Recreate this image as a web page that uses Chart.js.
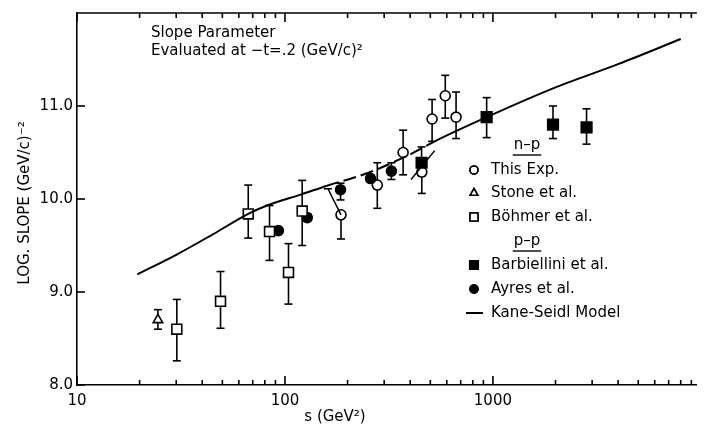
<!DOCTYPE html>
<html lang="en">
<head>
<meta charset="UTF-8">
<title>Slope Parameter</title>
<script src="https://cdn.jsdelivr.net/npm/chart.js@4.4.0/dist/chart.umd.min.js"></script>
<style>
    html, body { margin: 0; padding: 0; background: #fff; }
</style>
</head>
<body>
<canvas id="graph1" width="706" height="426"></canvas>
<script>
// n-p, this experiment (open circles)
var thisS  = [186, 278, 370, 455, 510, 590, 665];
var thisY  = [9.83, 10.15, 10.50, 10.29, 10.86, 11.11, 10.88];
var thisLo = [9.57, 9.90, 10.26, 10.06, 10.62, 10.87, 10.65];
var thisHi = [null, 10.39, 10.74, 10.38, 11.07, 11.33, 11.15];

// n-p, Stone et al. (open triangle)
var stoneS  = [24.5];
var stoneY  = [8.70];
var stoneLo = [8.60];
var stoneHi = [8.81];

// n-p, Bohmer et al. (open squares)
var bohmS  = [30.2, 49, 66.6, 84.3, 104, 121];
var bohmY  = [8.60, 8.90, 9.84, 9.65, 9.21, 9.87];
var bohmLo = [8.26, 8.61, 9.58, 9.34, 8.87, 9.50];
var bohmHi = [8.92, 9.22, 10.15, 9.93, 9.52, 10.20];

// p-p, Barbiellini et al. (filled squares)
var barbS  = [454, 933, 1945, 2820];
var barbY  = [10.39, 10.88, 10.80, 10.77];
var barbLo = [10.25, 10.66, 10.65, 10.59];
var barbHi = [10.56, 11.09, 11.00, 10.97];

// p-p, Ayres et al. (filled circles)
var ayresS  = [93, 128, 185, 258, 325];
var ayresY  = [9.66, 9.80, 10.10, 10.22, 10.30];
var ayresLo = [9.63, 9.76, 9.99, 10.18, 10.21];
var ayresHi = [9.69, 9.84, 10.17, 10.26, 10.39];

// Kane-Seidl model curve
var modelS = [19.5, 30, 45, 66.6, 82, 120, 158, 250, 400, 525, 933, 2000, 4000, 8000];
var modelY = [9.19, 9.40, 9.62, 9.84, 9.93, 10.05, 10.14, 10.28, 10.48, 10.62, 10.88, 11.20, 11.45, 11.72];

// shifted-point guide lines
var shift1S = [186, 161];
var shift1Y = [9.83, 10.11];
var shift2S = [404, 525];
var shift2Y = [10.21, 10.52];

var xMin = 10, xMax = 9570;
var yTicks = [8, 9, 10, 11];
var xLabels = [10, 100, 1000];
var FONT = "'DejaVu Sans', sans-serif";

function pts(xs, ys) {
    var out = [];
    for (var i = 0; i < xs.length; i++) out.push({x: xs[i], y: ys[i]});
    return out;
}

function marker(style, radius, fill) {
    return {
        showLine: false,
        pointStyle: style,
        pointRadius: radius,
        pointHoverRadius: radius,
        pointBorderWidth: 1.6,
        pointBorderColor: "#000",
        pointBackgroundColor: fill,
        borderColor: "#000",
        backgroundColor: fill
    };
}

var datasets = [
    Object.assign({label: "Kane-Seidl Model", data: pts(modelS, modelY), showLine: true, pointRadius: 0,
        borderColor: "#000", borderWidth: 2, cubicInterpolationMode: "monotone",
        segment: { borderDash: function (c) { return (c.p0.parsed.x >= 150 && c.p1.parsed.x <= 700) ? [13, 5] : undefined; } }
    }),
    {label: "shift1", data: pts(shift1S, shift1Y), showLine: true, pointRadius: 0, borderColor: "#000", borderWidth: 1.5, capEnd: true},
    {label: "shift2", data: pts(shift2S, shift2Y), showLine: true, pointRadius: 0, borderColor: "#000", borderWidth: 1.5},
    Object.assign({label: "Stone et al.", data: pts(stoneS, stoneY), lo: stoneLo, hi: stoneHi}, marker("triangle", 5.5, "#fff")),
    Object.assign({label: "Böhmer et al.", data: pts(bohmS, bohmY), lo: bohmLo, hi: bohmHi}, marker("rect", 7, "#fff")),
    Object.assign({label: "Barbiellini et al.", data: pts(barbS, barbY), lo: barbLo, hi: barbHi}, marker("rect", 7.5, "#000")),
    Object.assign({label: "Ayres et al.", data: pts(ayresS, ayresY), lo: ayresLo, hi: ayresHi}, marker("circle", 5, "#000")),
    Object.assign({label: "This Exp.", data: pts(thisS, thisY), lo: thisLo, hi: thisHi}, marker("circle", 5, "#fff"))
];

function seg(ctx, x1, y1, x2, y2) {
    ctx.beginPath(); ctx.moveTo(x1, y1); ctx.lineTo(x2, y2); ctx.stroke();
}

// vertical error bars with caps, drawn under the markers
var errorBars = {
    id: "errorBars",
    beforeDatasetsDraw: function (chart) {
        var ctx = chart.ctx, xs = chart.scales.x, ys = chart.scales.y;
        ctx.save();
        ctx.strokeStyle = "#000";
        ctx.lineWidth = 1.6;
        chart.data.datasets.forEach(function (ds) {
            if (ds.capEnd) {
                var last = ds.data[ds.data.length - 1];
                var cx = xs.getPixelForValue(last.x), cy = ys.getPixelForValue(last.y);
                seg(ctx, cx - 4, cy, cx + 4, cy);
            }
            if (!ds.lo) return;
            ds.data.forEach(function (p, i) {
                var px = xs.getPixelForValue(p.x), py = ys.getPixelForValue(p.y);
                if (ds.hi[i] != null) {
                    var t = ys.getPixelForValue(ds.hi[i]);
                    seg(ctx, px, py, px, t); seg(ctx, px - 4, t, px + 4, t);
                }
                if (ds.lo[i] != null) {
                    var b = ys.getPixelForValue(ds.lo[i]);
                    seg(ctx, px, py, px, b); seg(ctx, px - 4, b, px + 4, b);
                }
            });
        });
        ctx.restore();
    }
};

// inward ticks, top border, texts and legend
var frame = {
    id: "frame",
    afterDraw: function (chart) {
        var ctx = chart.ctx, a = chart.chartArea, xs = chart.scales.x, ys = chart.scales.y;
        ctx.save();
        ctx.strokeStyle = "#000";
        ctx.lineWidth = 1.6;
        seg(ctx, a.left, a.top, a.right, a.top);
        for (var d = 10; d < xMax; d *= 10) {
            for (var k = 1; k < 10; k++) {
                var v = d * k;
                if (v > xMax) break;
                var px = xs.getPixelForValue(v), len = (k === 1) ? 9 : 5;
                seg(ctx, px, a.bottom, px, a.bottom - len);
                seg(ctx, px, a.top, px, a.top + len);
            }
        }
        yTicks.forEach(function (v) {
            var py = ys.getPixelForValue(v);
            seg(ctx, a.left, py, a.left + 8, py);
        });

        ctx.fillStyle = "#000";
        ctx.textBaseline = "middle";
        ctx.textAlign = "left";
        ctx.font = "15px " + FONT;
        ctx.fillText("Slope Parameter", 151, 33);
        ctx.fillText("Evaluated at \u2212t=.2 (GeV/c)\u00b2", 151, 51);

        // axis titles
        ctx.textAlign = "center";
        ctx.fillText("s (GeV\u00b2)", 335, 417);
        ctx.save();
        ctx.translate(25, 203);
        ctx.rotate(-Math.PI / 2);
        ctx.fillText("LOG. SLOPE (GeV/c)\u207b\u00b2", 0, 0);
        ctx.restore();

        // legend
        var mx = 474, tx = 491;
        function header(txt, y) {
            ctx.textAlign = "center";
            ctx.fillText(txt, 527, y);
            var w = ctx.measureText(txt).width;
            ctx.lineWidth = 1.4;
            seg(ctx, 527 - w / 2 - 1, y + 10, 527 + w / 2 + 1, y + 10);
        }
        function item(label, y) {
            var ds = chart.data.datasets.find(function (e) { return e.label === label; });
            ctx.textAlign = "left";
            ctx.fillText(label, tx, y);
            ctx.lineWidth = 1.6;
            if (label === "Kane-Seidl Model") {
                ctx.lineWidth = 2;
                seg(ctx, mx - 8, y, mx + 9, y);
                return;
            }
            ctx.fillStyle = ds.pointBackgroundColor;
            Chart.helpers.drawPoint(ctx, {pointStyle: ds.pointStyle, radius: ds.pointRadius * 0.8, borderWidth: 1.6}, mx, y);
            ctx.fill();
            ctx.stroke();
            ctx.fillStyle = "#000";
        }
        header("n\u2013p", 145);
        item("This Exp.", 170);
        item("Stone et al.", 193);
        item("Böhmer et al.", 217);
        header("p\u2013p", 241);
        item("Barbiellini et al.", 265);
        item("Ayres et al.", 289);
        item("Kane-Seidl Model", 313);
        ctx.restore();
    }
};

new Chart("graph1", {
    type: "scatter",
    data: { datasets: datasets },
    options: {
        responsive: false,
        devicePixelRatio: 1,
        animation: false,
        layout: { padding: { top: 4, right: 0, left: 0, bottom: 0 } },
        plugins: { legend: { display: false }, tooltip: { enabled: false } },
        scales: {
            x: {
                type: "logarithmic",
                min: xMin,
                max: xMax,
                grid: { display: false, drawTicks: false },
                border: { display: true, color: "#000", width: 1.6 },
                ticks: {
                    autoSkip: false, maxRotation: 0, padding: 7,
                    color: "#000", font: { family: FONT, size: 15 },
                    callback: function (v) { var r = Math.round(v); return xLabels.indexOf(r) >= 0 ? String(r) : ""; }
                },
                afterFit: function (s) { s.height = 41; }
            },
            y: {
                min: 8,
                max: 12,
                grid: { display: false, drawTicks: false },
                border: { display: true, color: "#000", width: 1.6 },
                ticks: {
                    stepSize: 1, padding: 4,
                    color: "#000", font: { family: FONT, size: 15 },
                    callback: function (v) { return yTicks.indexOf(v) >= 0 ? v.toFixed(1) : ""; }
                },
                afterFit: function (s) { s.width = 77; }
            }
        }
    },
    plugins: [errorBars, frame]
});
</script>
</body>
</html>
